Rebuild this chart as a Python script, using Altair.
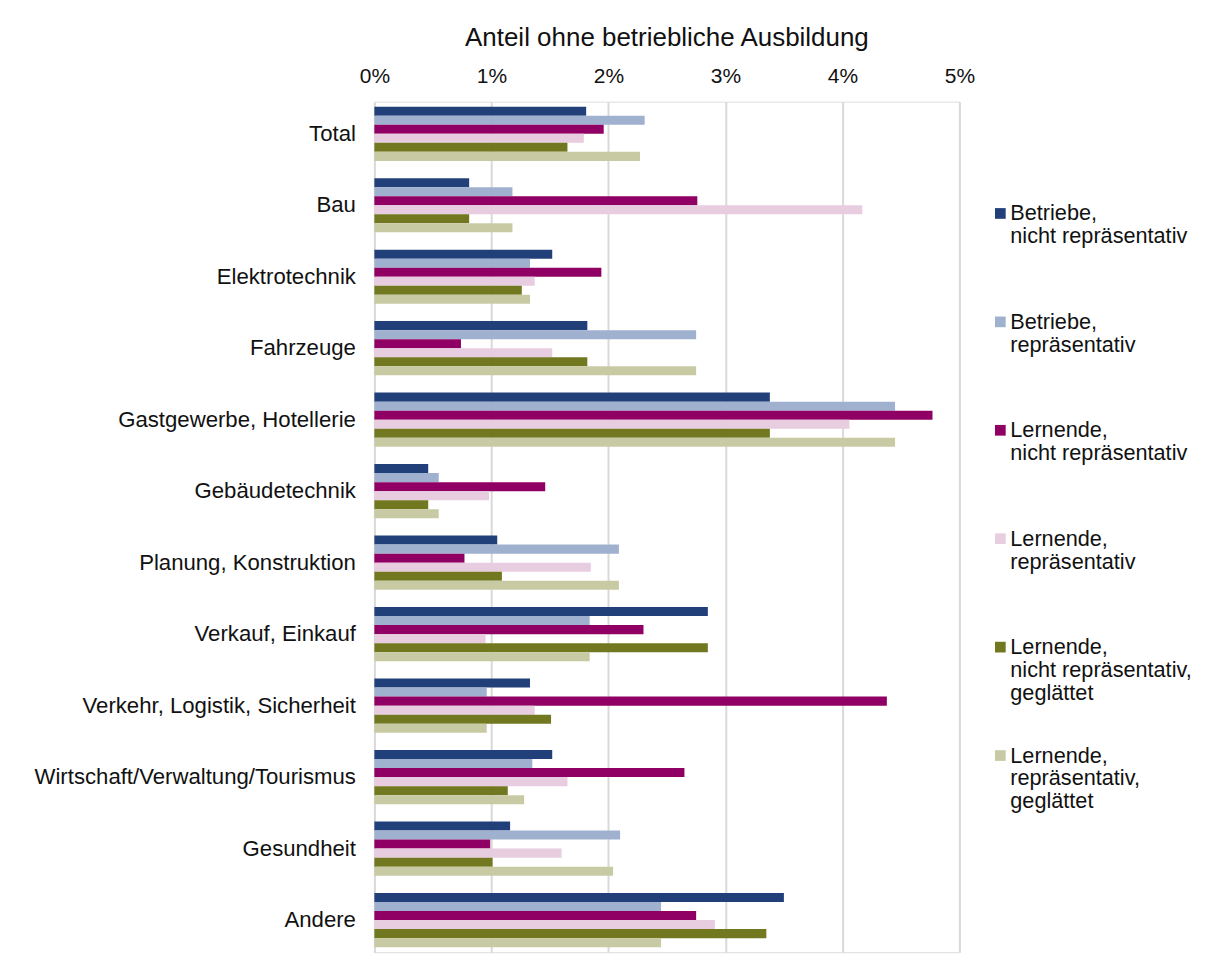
import altair as alt
import pandas as pd

categories = [
    "Total", "Bau", "Elektrotechnik", "Fahrzeuge", "Gastgewerbe, Hotellerie",
    "Gebäudetechnik", "Planung, Konstruktion", "Verkauf, Einkauf",
    "Verkehr, Logistik, Sicherheit", "Wirtschaft/Verwaltung/Tourismus",
    "Gesundheit", "Andere",
]

series_keys = ["b_nr", "b_r", "l_nr", "l_r", "l_nr_g", "l_r_g"]
series_labels = [
    "Betriebe,\nnicht repräsentativ",
    "Betriebe,\nrepräsentativ",
    "Lernende,\nnicht repräsentativ",
    "Lernende,\nrepräsentativ",
    "Lernende,\nnicht repräsentativ,\ngeglättet",
    "Lernende,\nrepräsentativ,\ngeglättet",
]
series_colors = ["#21407a", "#a0b1d0", "#900064", "#e8cce0", "#72781f", "#c8caa4"]

# values in percent
betriebe_nr = [1.81, 0.81, 1.52, 1.82, 3.38, 0.46, 1.05, 2.85, 1.33, 1.52, 1.16, 3.50]
betriebe_r = [2.31, 1.18, 1.33, 2.75, 4.45, 0.55, 2.09, 1.84, 0.96, 1.35, 2.10, 2.45]
lernende_nr = [1.96, 2.76, 1.94, 0.74, 4.77, 1.46, 0.77, 2.30, 4.38, 2.65, 0.99, 2.75]
lernende_r = [1.79, 4.17, 1.37, 1.52, 4.06, 0.98, 1.85, 0.95, 1.37, 1.65, 1.60, 2.91]
lernende_nr_g = [1.65, 0.81, 1.26, 1.82, 3.38, 0.46, 1.09, 2.85, 1.51, 1.14, 1.01, 3.35]
lernende_r_g = [2.27, 1.18, 1.33, 2.75, 4.45, 0.55, 2.09, 1.84, 0.96, 1.28, 2.04, 2.45]

x_ticks = [0, 1, 2, 3, 4, 5]

all_values = [betriebe_nr, betriebe_r, lernende_nr, lernende_r, lernende_nr_g, lernende_r_g]
rows = []
for key, vals in zip(series_keys, all_values):
    for cat, v in zip(categories, vals):
        rows.append({"Kategorie": cat, "series": key, "value": v})
df = pd.DataFrame(rows)

legend_df = pd.DataFrame({"series": series_keys, "label": series_labels})

FONT = "Liberation Sans"

color_scale = alt.Scale(domain=series_keys, range=series_colors)

bars = alt.Chart(df).mark_bar().encode(
    x=alt.X(
        "value:Q",
        scale=alt.Scale(domain=[0, 5], nice=False, zero=True),
        axis=alt.Axis(
            orient="top", values=x_ticks, labelExpr="datum.value + '%'",
            title=None, grid=True, gridColor="#d9d9d9", gridWidth=2,
            domain=False, ticks=False, tickSize=0, labelPadding=15,
            labelFlush=False, labelOverlap=False,
            labelFontSize=21, labelFont=FONT, labelColor="#111111",
        ),
    ),
    y=alt.Y(
        "Kategorie:N", sort=categories,
        scale=alt.Scale(paddingInner=0.2416, paddingOuter=0.0703),
        axis=alt.Axis(
            title=None, domain=False, ticks=False, tickSize=0, grid=False,
            labelPadding=19, labelFontSize=22.2, labelFont=FONT,
            labelColor="#111111", labelLimit=400,
        ),
    ),
    yOffset=alt.YOffset("series:N", sort=series_keys),
    color=alt.Color("series:N", scale=color_scale, legend=None),
)

legend_y = alt.Y(
    "series:N", sort=series_keys, axis=None,
    scale=alt.Scale(type="point", padding=0, range=[112, 655]),
)

legend_sq = alt.Chart(legend_df).mark_square(size=115, opacity=1).encode(
    x=alt.value(627),
    y=legend_y,
    color=alt.Color("series:N", scale=color_scale, legend=None),
)

legend_txt = alt.Chart(legend_df).mark_text(
    align="left", baseline="alphabetic", dy=7, lineBreak="\n", lineHeight=23,
    fontSize=21.7, font=FONT, color="#111111",
).encode(
    x=alt.value(637),
    y=legend_y,
    text="label:N",
)

chart = alt.layer(bars, legend_sq, legend_txt).resolve_scale(
    y="independent"
).properties(
    width=586,
    height=852,
    title=alt.TitleParams(
        text="Anteil ohne betriebliche Ausbildung", fontSize=26, font=FONT,
        fontWeight="normal", anchor="middle", color="#111111", offset=15,
    ),
    autosize=alt.AutoSizeParams(type="none"),
    padding={"left": 367, "top": 93, "right": 239, "bottom": 7},
).configure_view(stroke=None).configure(background="white")

chart.save("out.html", embed_options={"renderer": "svg", "actions": False})
